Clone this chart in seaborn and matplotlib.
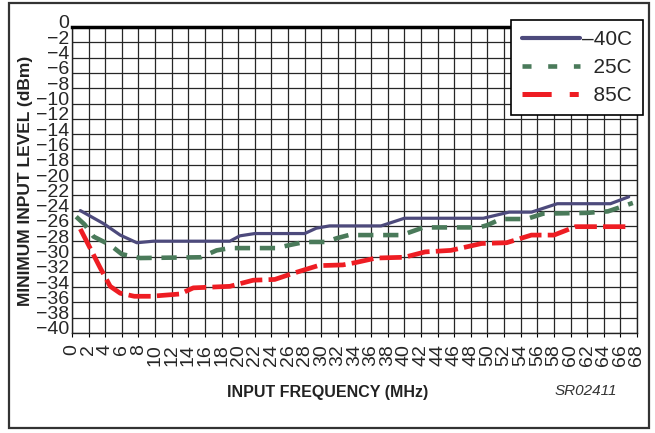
import numpy as np
import pandas as pd
import seaborn as sns
import matplotlib.pyplot as plt
import matplotlib.transforms as mtransforms
from matplotlib.lines import Line2D
from matplotlib.patches import Rectangle

# values
freq_m40 = [1, 3.8, 5.8, 7.8, 9.8, 19, 20.2, 22, 28, 29.4, 31, 37.2, 40, 49.5, 52.6, 55.3, 58.4, 64.8, 67]
level_m40 = [-24.0, -25.7, -27.2, -28.2, -28.0, -28.0, -27.3, -27.0, -27.0, -26.3, -26.0, -26.0, -25.0, -25.0,
             -24.2, -24.2, -23.1, -23.1, -22.2]

freq_25 = [0.5, 1.5, 2.6, 4.6, 6, 8.2, 15.5, 17.4, 19, 24.6, 26.2, 28, 30.5, 31.9, 33.3, 39.7, 42.3, 49, 50,
           51.6, 54.7, 56.7, 61.9, 64.5, 67.5]
level_25 = [-24.8, -25.8, -27.4, -28.5, -29.7, -30.2, -30.1, -29.2, -28.9, -28.9, -28.5, -28.1, -28.1, -27.6,
            -27.2, -27.2, -26.2, -26.2, -25.9, -25.1, -25.1, -24.4, -24.3, -24.1, -23.0]

freq_85 = [1, 2.6, 3.4, 4.6, 5.8, 7.5, 9.5, 13, 14.6, 19, 21.8, 24.4, 26.6, 29.6, 32.6, 34.1, 36.6, 40, 42.5,
           45.6, 49.3, 52.3, 55.3, 58, 60.6, 67.3]
level_85 = [-26.4, -29.8, -31.5, -33.9, -34.8, -35.2, -35.2, -34.9, -34.1, -33.9, -33.1, -33.0, -32.2, -31.2,
            -31.1, -30.8, -30.2, -30.1, -29.4, -29.2, -28.3, -28.2, -27.2, -27.2, -26.1, -26.1]

labels = ["\u201340C", "  25C", "  85C"]
x_ticks = list(range(0, 69, 2))
y_ticks = list(range(0, -41, -2))

sns.set_style("white")
plt.rcParams["font.family"] = ["Liberation Sans", "DejaVu Sans"]
plt.rcParams["lines.scale_dashes"] = False

fig = plt.figure(figsize=(6.55, 4.33), dpi=100)
ax = fig.add_axes([72 / 655, 1 - 333 / 433, 565 / 655, 306 / 433])

navy = "#4d4a7c"
green = "#4a7a5a"
red = "#ee1d23"

sns.lineplot(x=freq_m40, y=level_m40, color=navy, lw=2.3, ax=ax, sort=False, zorder=3)
sns.lineplot(x=freq_25, y=level_25, color=green, lw=3.3, ax=ax, sort=False, zorder=3,
             linestyle=(0, (11, 7)))
sns.lineplot(x=freq_85, y=level_85, color=red, lw=3.4, ax=ax, sort=False, zorder=3,
             linestyle=(0, (16, 4.5)))

ax.set_xlim(0, 68)
ax.set_ylim(-40, 0)
ax.set_xticks(x_ticks)
ax.set_yticks(y_ticks)
ax.set_xticklabels([str(t) for t in x_ticks], rotation=90, va="top")
ax.grid(True, color="#262626", lw=0.9)
ax.set_axisbelow(True)

ax.tick_params(axis="x", length=3, width=0.8, color="black", pad=5, labelsize=14, direction="out",
               bottom=True)
ax.tick_params(axis="y", length=0, pad=2, labelsize=14)

# y labels sit a little above their grid lines
off = mtransforms.ScaledTranslation(0, 5 / 100, fig.dpi_scale_trans)
for lbl in ax.get_yticklabels():
    lbl.set_transform(lbl.get_transform() + off)

for side in ["left", "bottom", "right"]:
    ax.spines[side].set_color("#222222")
    ax.spines[side].set_linewidth(1)
ax.spines["top"].set_color("black")
ax.spines["top"].set_linewidth(2.5)

handles = [
    Line2D([], [], color=navy, lw=3, solid_capstyle="round"),
    Line2D([], [], color=green, lw=3.3, linestyle=(0, (6.5, 12))),
    Line2D([], [], color=red, lw=3.6, linestyle=(0, (21, 13, 6.5, 13))),
]
leg = fig.legend(handles, labels, loc="upper right", bbox_to_anchor=(643 / 655, 1 - 20 / 433),
                 bbox_transform=fig.transFigure, borderaxespad=0, fontsize=15, handlelength=2.8,
                 handletextpad=0.12, labelspacing=0.42, borderpad=0.5, fancybox=False, framealpha=1)
leg.get_frame().set_edgecolor("black")
leg.get_frame().set_linewidth(1.2)

fig.text(26 / 655, 1 - 181 / 433, "MINIMUM INPUT LEVEL (dBm)", rotation=90, ha="center", va="center",
         fontsize=12.5, fontweight="bold", color="#222222")
fig.text(327.5 / 655, 1 - 392 / 433, "INPUT FREQUENCY (MHz)", ha="center", va="center",
         fontsize=11.5, fontweight="bold", color="#222222")
fig.text(586 / 655, 1 - 391 / 433, "SR02411", ha="center", va="center", fontsize=11,
         style="italic", color="#333333")

fig.add_artist(Rectangle((9 / 655, 1 - 428 / 433), 640 / 655, 425 / 433, transform=fig.transFigure,
                         fill=False, edgecolor="#333333", lw=1.6))

fig.savefig("out.png", dpi=100)
